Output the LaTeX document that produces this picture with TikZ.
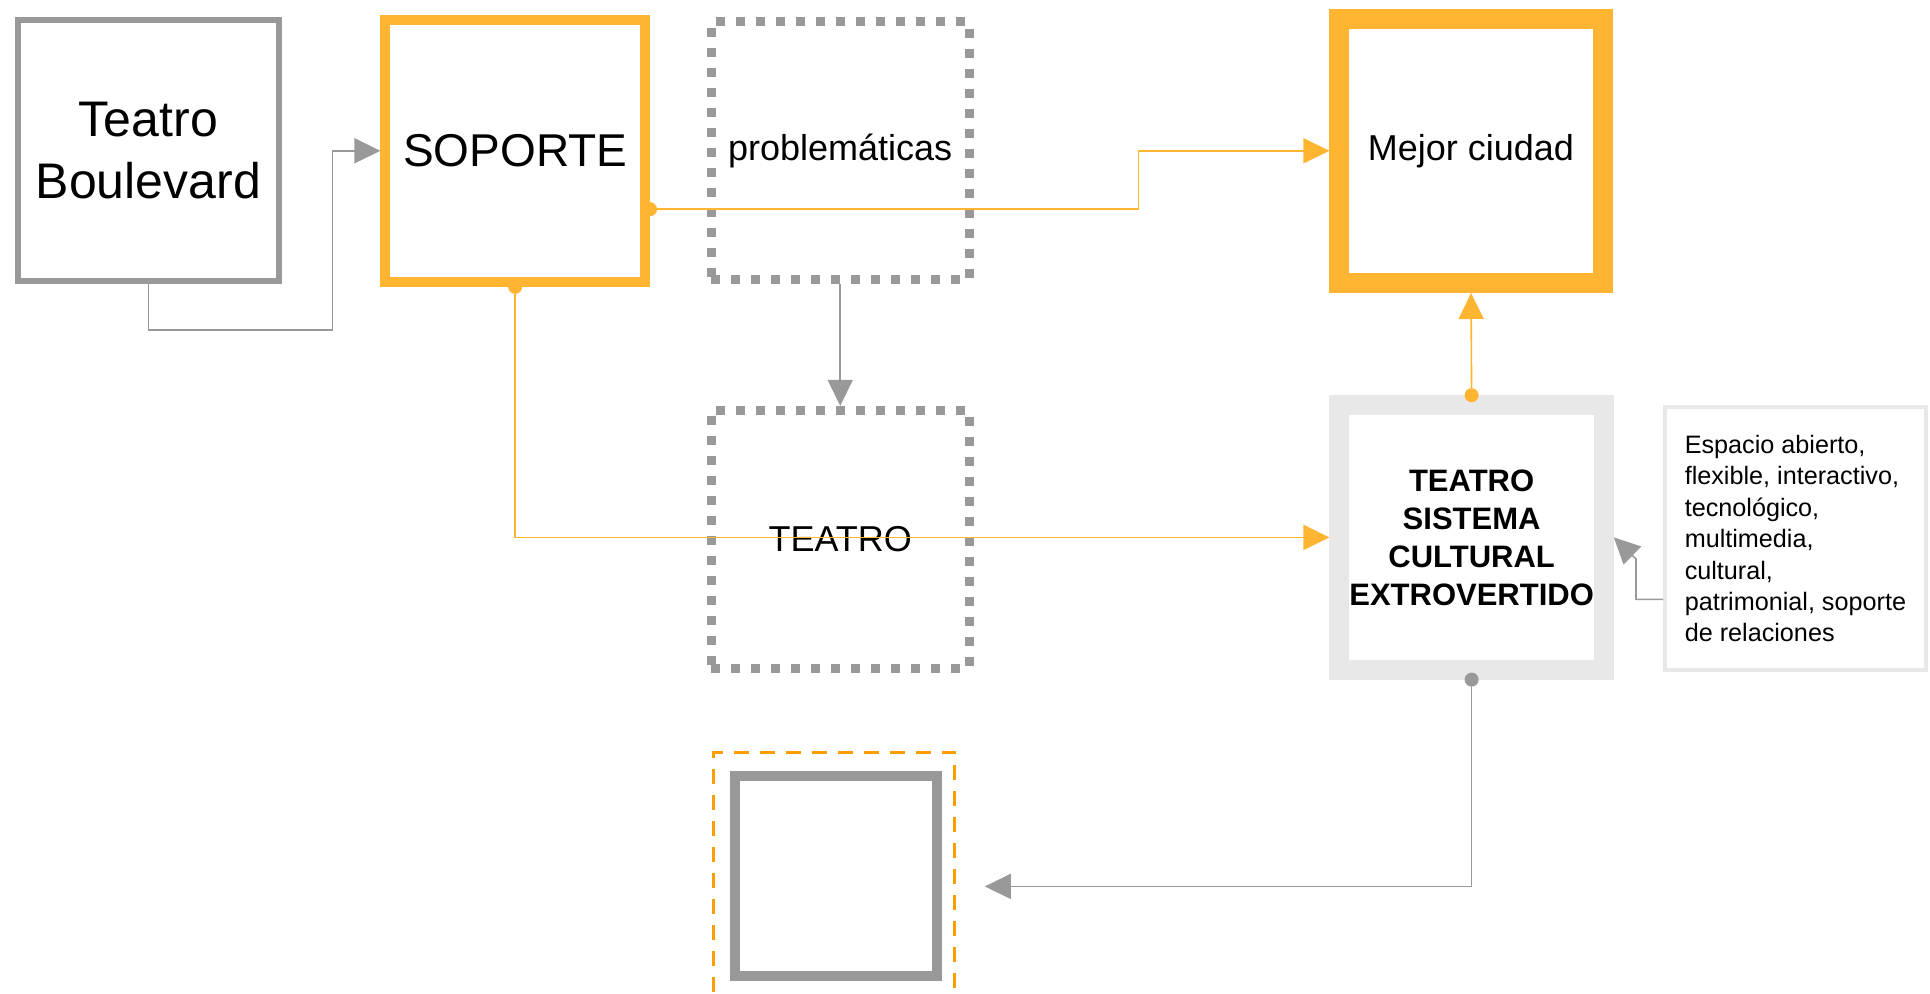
\documentclass[tikz,border=0pt]{standalone}
\usepackage{fontspec}
\setmainfont{Liberation Sans}
\usetikzlibrary{arrows.meta}

\definecolor{boxgray}{HTML}{999999}
\definecolor{boxorange}{HTML}{FFB531}
\definecolor{boxlight}{HTML}{E8E8E8}
\definecolor{frameorange}{HTML}{FF9E00}

\tikzset{
    box/.style={rectangle, inner sep=0pt, outer sep=auto, align=center},
    dotbox/.style={box, draw=boxgray, line width=4.5pt, dash pattern=on 4.5pt off 5.5pt,
        minimum width=129.1pt, minimum height=128.8pt, font=\fontsize{18}{21}\selectfont},
    link/.style={line width=0.8pt, -{Triangle[length=13pt,width=12.5pt]}},
    dotlink/.style={line width=0.8pt, {Circle[length=7pt,width=7pt]}-{Triangle[length=13pt,width=12.5pt]}, shorten <=-3.5pt}
}

\begin{document}
\begin{tikzpicture}[x=1pt, y=1pt]
        \useasboundingbox (0,0) rectangle (965,-497);

        % top row
        \node[box, draw=boxgray, line width=3pt, minimum width=130.6pt, minimum height=130.6pt,
            font=\fontsize{25}{31}\selectfont] (tb) at (74.2,-75.4) {Teatro\\Boulevard};
        \node[box, draw=boxorange, line width=5pt, minimum width=129.8pt, minimum height=131pt,
            font=\fontsize{23}{27}\selectfont] (sop) at (257.6,-75.4) {SOPORTE};
        \node[dotbox] (prob) at (420.1,-75.4) {problemáticas};
        \node[box, draw=boxorange, line width=10pt, minimum width=131.6pt, minimum height=132.2pt,
            font=\fontsize{18}{21}\selectfont] (mej) at (735.5,-75.4) {Mejor ciudad};

        % middle row
        \node[dotbox] (teat) at (420.1,-269.6) {TEATRO};
        \node[box, draw=boxlight, line width=10pt, minimum width=132.2pt, minimum height=132.2pt,
            font=\fontsize{15.5}{19}\selectfont\bfseries] (sis) at (735.8,-268.7)
            {TEATRO\\SISTEMA\\CULTURAL\\EXTROVERTIDO};
        \node[box, draw=boxlight, line width=2pt, minimum width=130.4pt, minimum height=131.6pt,
            align=left, font=\fontsize{12.6}{15.7}\selectfont] (desc) at (897.7,-269.3)
            {Espacio abierto,\\flexible, interactivo,\\tecnológico,\\multimedia,\\cultural,\\patrimonial, soporte\\de relaciones};

        % bottom box and its frame
        \node[box, draw=frameorange, line width=1.5pt, dash pattern=on 7.5pt off 5.5pt,
            minimum width=120.9pt, minimum height=140pt] (frame) at (417,-446.2) {};
        \node[box, draw=boxgray, line width=5pt, minimum width=100.9pt, minimum height=100.3pt] (bot) at (417.9,-437.9) {};
        \coordinate (botin) at (492.4,-443.2);

        % connectors
        \draw[link, boxgray] (tb.south) |- (166.2,-165) |- (sop.west);
        \draw[dotlink, boxorange] ([yshift=-29.2pt]sop.east) -| (569.3,-75.4) -- (mej.west);
        \draw[dotlink, boxorange] (sop.south) |- (sis.west);
        \draw[link, boxgray] (prob.south) -- (teat.north);
        \draw[dotlink, boxorange] (sis.north) -- (mej.south);
        \draw[dotlink, boxgray] (sis.south) |- (botin);
        \draw[link, boxgray] ([yshift=-30.4pt]desc.west) -| (818,-279.5) -- (sis.east);

    \end{tikzpicture}
\end{document}
